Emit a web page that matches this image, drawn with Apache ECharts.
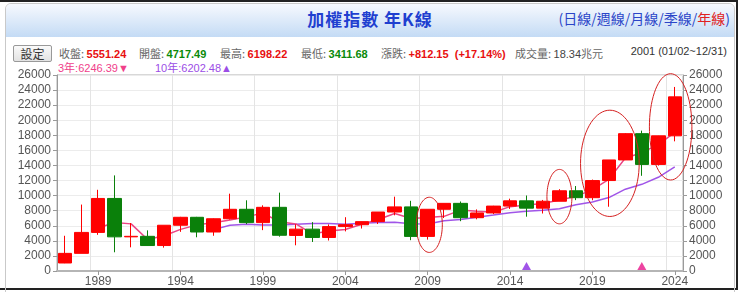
<!DOCTYPE html>
<html><head><meta charset="utf-8">
<script src="https://cdn.jsdelivr.net/npm/echarts@6/dist/echarts.min.js"></script>
<style>
html,body{margin:0;padding:0;width:740px;height:292px;overflow:hidden;background:#fff;}
body{font-family:Arial,"Liberation Sans","Noto Sans CJK TC",sans-serif;position:relative;}
#frame{position:absolute;left:0;top:0;width:738px;height:290px;border-top:2px solid #222;border-right:2px solid #222;border-bottom:2px solid #222;box-sizing:border-box;}
#panel{position:absolute;left:5px;top:3px;width:730px;height:300px;border:1px solid #c9c9c9;border-radius:6px;box-sizing:border-box;overflow:hidden;}
#hdr{position:absolute;left:0;top:0;width:100%;height:33px;background:linear-gradient(#f6f9fe,#c4dbf5);}
#title{position:absolute;left:0;width:100%;top:6px;text-align:center;font:bold 17px "Noto Sans CJK TC",sans-serif;color:#1f3fd0;letter-spacing:1px;}
#links{position:absolute;right:10px;top:8px;font:14px "Noto Sans CJK TC",sans-serif;color:#2b45c8;}
#links .r{color:#e02020;}
.t{position:absolute;top:45px;font-size:11px;white-space:nowrap;color:#666;font-family:"Noto Sans CJK TC",sans-serif;}
.t b{font-family:Arial,"Liberation Sans",sans-serif;}
.red{color:#e81010;} .grn{color:#0a8a0a;}
#date{position:absolute;right:13px;top:45px;font:11px Arial,"Liberation Sans",sans-serif;color:#333;}
.ma{position:absolute;top:59px;font:11px Arial,"Liberation Sans","Noto Sans CJK TC",sans-serif;white-space:nowrap;}
#btn{position:absolute;left:13px;top:45px;width:37px;height:15px;border:1px solid #999;border-radius:2px;background:linear-gradient(#fafafa,#e2e2e2);font:12px "Noto Sans CJK TC",sans-serif;color:#333;text-align:center;line-height:15px;}
#chart{position:absolute;left:0;top:0;width:740px;height:292px;}
</style></head>
<body>
<div id="frame"></div>
<div id="panel"><div id="hdr"></div></div>
<div id="title">加權指數 年K線</div>
<div id="links">(日線/週線/月線/季線/<span class="r">年線</span>)</div>
<div id="btn">設定</div>
<div class="t" style="left:59px">收盤: <b class="red">5551.24</b></div>
<div class="t" style="left:139px">開盤: <b class="grn">4717.49</b></div>
<div class="t" style="left:220px">最高: <b class="red">6198.22</b></div>
<div class="t" style="left:301px">最低: <b class="grn">3411.68</b></div>
<div class="t" style="left:381px">漲跌: <b class="red">+812.15&nbsp; (+17.14%)</b></div>
<div class="t" style="left:515px">成交量: <span style="color:#444;font-family:Arial,'Liberation Sans',sans-serif">18.34</span>兆元</div>
<div id="date">2001 (01/02~12/31)</div>
<div class="ma" style="left:58px;color:#f0408a">3年:6246.39▼</div>
<div class="ma" style="left:155px;color:#9b4de6">10年:6202.48▲</div>
<div id="chart"></div>
<script>
const years = ['1987','1988','1989','1990','1991','1992','1993','1994','1995','1996','1997','1998','1999','2000','2001','2002','2003','2004','2005','2006','2007','2008','2009','2010','2011','2012','2013','2014','2015','2016','2017','2018','2019','2020','2021','2022','2023','2024'];
const openV  = [1063,2341,5119,9624,4530,4600,3377,6070,7124,5173,6933,8187,6418,8448,4717,5551,4452,5890,6139,6548,7823,8506,4591,8188,8973,7072,7700,8611,9307,8338,9254,10643,9727,11997,14732,18218,14137,17930];
const closeV = [2339,5119,9624,4530,4600,3377,6070,7124,5173,6933,8187,6418,8448,4739,5551,4452,5890,6139,6548,7823,8506,4591,8188,8973,7072,7700,8611,9307,8338,9254,10643,9727,11997,14732,18218,14137,17930,23100];
const lowV   = [1039,2341,4800,2485,3142,3328,3098,5194,4474,4672,6820,6219,5422,4555,3411,3850,4044,5255,5632,6232,7384,4089,4164,7032,6609,6857,7543,8230,7203,7627,9254,9400,9382,8523,14720,12629,13981,17200];
const highV  = [4673,8813,10773,12682,6365,5391,6070,7183,7180,6982,10256,9378,8710,10393,6198,6484,6182,7135,6575,7823,9859,9309,8188,8990,9220,8170,8647,9593,10014,9426,10854,11270,12126,14732,18291,18619,17945,24416];
const ma3    = [null,null,5694,6424,6251,4169,4682,5524,6122,6410,6764,7179,7684,6535,6246,4914,5298,5494,6192,6837,7626,6973,7095,7251,8078,7915,7794,8539,8752,8966,9412,9875,10789,12152,14982,15696,16762,18400];
const ma10   = [null,null,null,null,null,null,null,null,null,5489,6074,6204,6086,6107,6202,6310,6292,6193,6331,6420,6451,6269,6243,6666,6818,7143,7415,7732,7911,8054,8268,8781,9162,9738,10853,11496,12428,13801];
const yTicks = {min:0, max:26000, interval:2000};
const markPurple = ['2015'];
const markPink = ['2022'];
// annotation ellipses: [category index centre, value centre, x radius (categories), y radius (value)]
const ellipses = [[22.1,6124,0.79,3660],[30.0,9865,0.76,3610],[33.06,14282,1.78,7050],[36.75,19122,1.29,7050]];

const candles = years.map((y,i)=>[openV[i],closeV[i],lowV[i],highV[i]]);
const labelIdx = i => (i-2)%5===0;
const chart = echarts.init(document.getElementById('chart'), null, {renderer:'canvas'});
const yAxisCommon = {
  type:'value', min:yTicks.min, max:yTicks.max, interval:yTicks.interval,
  axisLine:{show:true, lineStyle:{color:'#9a9a9a'}},
  axisTick:{show:true, length:4, lineStyle:{color:'#9a9a9a'}},
  axisLabel:{color:'#555', fontSize:12, margin:6, fontFamily:'Arial, Liberation Sans, sans-serif', formatter:v=>String(v)},
};
chart.setOption({
  animation:false,
  backgroundColor:'transparent',
  grid:{left:57, right:57, top:75, bottom:21, show:true, borderColor:'#b0b0b0', borderWidth:1, backgroundColor:'transparent'},
  xAxis:{
    type:'category', data:years, boundaryGap:true,
    axisLine:{lineStyle:{color:'#b5b5b5', width:2}},
    axisTick:{show:true, alignWithLabel:true, interval:labelIdx, length:4, lineStyle:{color:'#999'}},
    axisLabel:{interval:labelIdx, color:'#555', fontSize:12, margin:5, fontFamily:'Arial, Liberation Sans, sans-serif'},
    splitLine:{show:true, interval:labelIdx, lineStyle:{color:'#e4e4e4'}}
  },
  yAxis:[
    Object.assign({}, yAxisCommon, {position:'left', splitLine:{show:true, lineStyle:{color:'#ececec'}}}),
    Object.assign({}, yAxisCommon, {position:'right', splitLine:{show:false}})
  ],
  series:[
    {type:'line', data:ma10, symbol:'none', lineStyle:{color:'#a055e8', width:1.5}, z:2},
    {type:'line', data:ma3, symbol:'none', lineStyle:{color:'#ec4584', width:1.5}, z:2},
    {type:'candlestick', data:candles, barWidth:14, z:3,
      itemStyle:{color:'#ff0000', color0:'#0a800a', borderColor:'#ff0000', borderColor0:'#0a800a', borderWidth:1}},
    {type:'scatter', data:markPurple.map(y=>[y,0]), symbol:'triangle', symbolSize:[9,8], symbolOffset:[0,-5], itemStyle:{color:'#8a2be2'}, z:4},
    {type:'scatter', data:markPink.map(y=>[y,0]), symbol:'triangle', symbolSize:[9,8], symbolOffset:[0,-5], itemStyle:{color:'#e8158a'}, z:4},
    {type:'custom', data:ellipses, z:5, silent:true,
      renderItem:function(params, api){
        const xi = api.value(0), yv = api.value(1), rxc = api.value(2), ryv = api.value(3);
        const base = Math.floor(xi);
        const c = api.coord([base, yv]);
        const band = api.size([1,0])[0];
        const cx = c[0] + (xi-base)*band;
        const cy = c[1];
        const rx = rxc*band;
        const ry = api.size([0, ryv])[1];
        const pts = [];
        for(let k=0;k<72;k++){const a=k/72*Math.PI*2; pts.push([cx+rx*Math.cos(a), cy+ry*Math.sin(a)]);}
        return {type:'polygon', shape:{points:pts}, style:{fill:null, stroke:'#d42020', lineWidth:1}};
      }}
  ]
});
</script>
</body></html>
